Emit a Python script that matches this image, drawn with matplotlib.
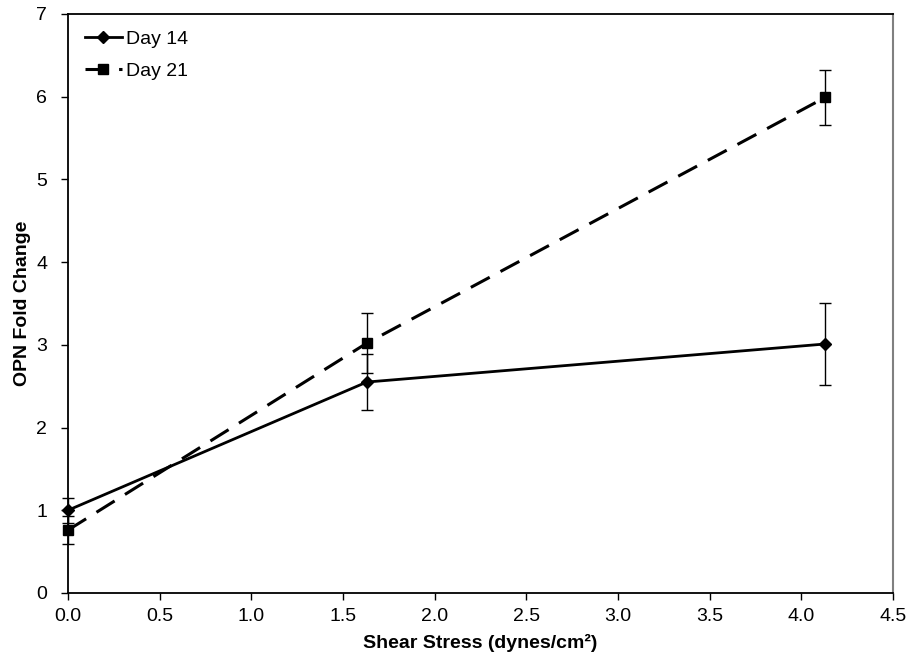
import matplotlib.pyplot as plt
from matplotlib.lines import Line2D

plt.rcParams['font.family'] = ['Liberation Sans', 'DejaVu Sans']

# shear stress (dynes/cm2)
shear = [0.0, 1.63, 4.13]

# OPN fold change and error
day14 = [1.0, 2.55, 3.01]
day14_err = [0.15, 0.34, 0.49]
day21 = [0.76, 3.02, 5.99]
day21_err = [0.17, 0.36, 0.33]

fig = plt.figure(figsize=(9.1, 6.58), dpi=100)
ax = fig.add_axes([0.0747, 0.0988, 0.9065, 0.88])

dash = (0, (7, 4))
e14 = ax.errorbar(shear, day14, yerr=day14_err, color='black', linewidth=2,
                  marker='D', markersize=6, ecolor='black', elinewidth=1,
                  capsize=4, capthick=1)
e21 = ax.errorbar(shear, day21, yerr=day21_err, color='black', linewidth=2.2,
                  linestyle=dash, marker='s', markersize=7.5,
                  ecolor='black', elinewidth=1, capsize=4, capthick=1)
for e in (e14, e21):
    for art in e.lines[0:1] + e.lines[1] + e.lines[2]:
        art.set_clip_on(False)

ax.set_xlim(0, 4.5)
ax.set_ylim(0, 7)
ax.set_xticks([0.0, 0.5, 1.0, 1.5, 2.0, 2.5, 3.0, 3.5, 4.0, 4.5])
ax.set_xticklabels(['0.0', '0.5', '1.0', '1.5', '2.0', '2.5', '3.0', '3.5', '4.0', '4.5'])
ax.set_yticks(range(0, 8))
ax.tick_params(direction='out', length=5, width=1, labelsize=14, color='black')
ax.tick_params(axis='y', pad=10)
ax.tick_params(axis='x', pad=6)

for side in ['left', 'bottom', 'top']:
    ax.spines[side].set_linewidth(1.3)
    ax.spines[side].set_color('black')
ax.spines['right'].set_color('#808080')
ax.spines['right'].set_linewidth(1.5)

ax.set_xlabel('Shear Stress (dynes/cm²)', fontsize=14, fontweight='bold', labelpad=6)
ax.set_ylabel('OPN Fold Change', fontsize=14, fontweight='bold', labelpad=4)

handles = [Line2D([], [], color='black', linewidth=2, marker='D', markersize=6),
           Line2D([], [], color='black', linewidth=2.2, linestyle=dash,
                  marker='s', markersize=7.5)]
ax.legend(handles, ['Day 14', 'Day 21'], loc='upper left', frameon=False,
          fontsize=14, handlelength=1.9, handletextpad=0.2,
          borderaxespad=0, borderpad=0,
          bbox_to_anchor=(0.0206, 0.972), labelspacing=0.75)

plt.savefig('out.png', dpi=100)
